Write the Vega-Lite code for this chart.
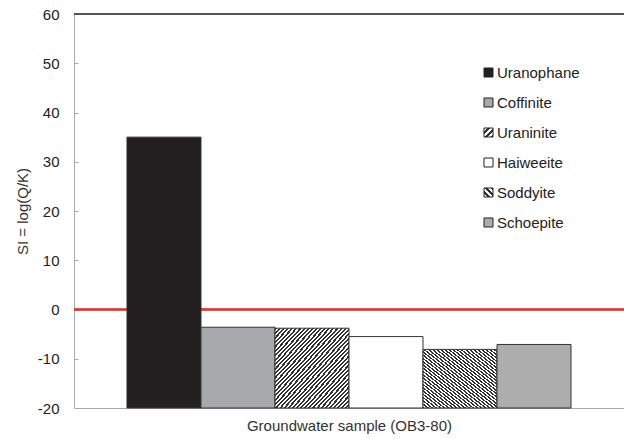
{
  "$schema": "https://vega.github.io/schema/vega-lite/v6.json",
  "autosize": {"type": "none"},
  "width": 550,
  "height": 394,
  "padding": {"left": 74, "top": 14, "right": 0, "bottom": 31},
  "background": "white",
  "config": {
    "view": {"stroke": null},
    "font": "Liberation Sans",
    "axis": {"labelFont": "Liberation Sans", "titleFont": "Liberation Sans", "labelFontSize": 15, "titleFontSize": 15, "labelColor": "#222", "titleColor": "#333", "titleFontWeight": "normal", "grid": false, "domainColor": "#aaa", "tickColor": "#aaa"}
  },
  "data": {
    "values": [
      {"mineral": "Uranophane", "SI": 35.0, "order": 1},
      {"mineral": "Coffinite", "SI": -3.6, "order": 2},
      {"mineral": "Uraninite", "SI": -3.8, "order": 3},
      {"mineral": "Haiweeite", "SI": -5.5, "order": 4},
      {"mineral": "Soddyite", "SI": -8.1, "order": 5},
      {"mineral": "Schoepite", "SI": -7.1, "order": 6}
    ]
  },
  "layer": [
    {
      "mark": {"type": "rule", "color": "#555", "strokeWidth": 1.5},
      "encoding": {"y": {"datum": 60, "type": "quantitative", "scale": {"domain": [-20, 60], "nice": false, "zero": false}}}
    },
    {
      "mark": {"type": "rule", "color": "#e8332a", "strokeWidth": 1.5},
      "encoding": {"y": {"datum": 0, "type": "quantitative"}}
    },
    {
      "mark": {"type": "bar", "stroke": "#333", "strokeWidth": 1, "opacity": 1},
      "encoding": {
        "x": {
          "field": "mineral", "type": "nominal", "sort": {"field": "order"},
          "scale": {"paddingInner": 0, "paddingOuter": 0.716},
          "axis": {"labels": false, "ticks": false, "title": "Groundwater sample (OB3-80)", "titlePadding": 10}
        },
        "y": {
          "field": "SI", "type": "quantitative",
          "scale": {"domain": [-20, 60], "nice": false, "zero": false},
          "axis": {"values": [-20, -10, 0, 10, 20, 30, 40, 50, 60], "labelExpr": "'' + datum.value", "title": "SI = log(Q/K)", "tickSize": -4, "labelPadding": 19, "titlePadding": 7}
        },
        "y2": {"datum": -20},
        "fill": {
          "condition": [
            {"test": "datum.mineral === 'Uraninite'", "value": {"gradient": "linear", "x1": 0, "y1": 0, "x2": 1, "y2": 1, "stops": [
              {"offset":0,"color":"#333"},{"offset":0.0139,"color":"#333"},{"offset":0.0139,"color":"#fff"},{"offset":0.0278,"color":"#fff"},
              {"offset":0.0278,"color":"#333"},{"offset":0.0417,"color":"#333"},{"offset":0.0417,"color":"#fff"},{"offset":0.0556,"color":"#fff"},
              {"offset":0.0556,"color":"#333"},{"offset":0.0694,"color":"#333"},{"offset":0.0694,"color":"#fff"},{"offset":0.0833,"color":"#fff"},
              {"offset":0.0833,"color":"#333"},{"offset":0.0972,"color":"#333"},{"offset":0.0972,"color":"#fff"},{"offset":0.1111,"color":"#fff"},
              {"offset":0.1111,"color":"#333"},{"offset":0.125,"color":"#333"},{"offset":0.125,"color":"#fff"},{"offset":0.1389,"color":"#fff"},
              {"offset":0.1389,"color":"#333"},{"offset":0.1528,"color":"#333"},{"offset":0.1528,"color":"#fff"},{"offset":0.1667,"color":"#fff"},
              {"offset":0.1667,"color":"#333"},{"offset":0.1806,"color":"#333"},{"offset":0.1806,"color":"#fff"},{"offset":0.1944,"color":"#fff"},
              {"offset":0.1944,"color":"#333"},{"offset":0.2083,"color":"#333"},{"offset":0.2083,"color":"#fff"},{"offset":0.2222,"color":"#fff"},
              {"offset":0.2222,"color":"#333"},{"offset":0.2361,"color":"#333"},{"offset":0.2361,"color":"#fff"},{"offset":0.25,"color":"#fff"},
              {"offset":0.25,"color":"#333"},{"offset":0.2639,"color":"#333"},{"offset":0.2639,"color":"#fff"},{"offset":0.2778,"color":"#fff"},
              {"offset":0.2778,"color":"#333"},{"offset":0.2917,"color":"#333"},{"offset":0.2917,"color":"#fff"},{"offset":0.3056,"color":"#fff"},
              {"offset":0.3056,"color":"#333"},{"offset":0.3194,"color":"#333"},{"offset":0.3194,"color":"#fff"},{"offset":0.3333,"color":"#fff"},
              {"offset":0.3333,"color":"#333"},{"offset":0.3472,"color":"#333"},{"offset":0.3472,"color":"#fff"},{"offset":0.3611,"color":"#fff"},
              {"offset":0.3611,"color":"#333"},{"offset":0.375,"color":"#333"},{"offset":0.375,"color":"#fff"},{"offset":0.3889,"color":"#fff"},
              {"offset":0.3889,"color":"#333"},{"offset":0.4028,"color":"#333"},{"offset":0.4028,"color":"#fff"},{"offset":0.4167,"color":"#fff"},
              {"offset":0.4167,"color":"#333"},{"offset":0.4306,"color":"#333"},{"offset":0.4306,"color":"#fff"},{"offset":0.4444,"color":"#fff"},
              {"offset":0.4444,"color":"#333"},{"offset":0.4583,"color":"#333"},{"offset":0.4583,"color":"#fff"},{"offset":0.4722,"color":"#fff"},
              {"offset":0.4722,"color":"#333"},{"offset":0.4861,"color":"#333"},{"offset":0.4861,"color":"#fff"},{"offset":0.5,"color":"#fff"},
              {"offset":0.5,"color":"#333"},{"offset":0.5139,"color":"#333"},{"offset":0.5139,"color":"#fff"},{"offset":0.5278,"color":"#fff"},
              {"offset":0.5278,"color":"#333"},{"offset":0.5417,"color":"#333"},{"offset":0.5417,"color":"#fff"},{"offset":0.5556,"color":"#fff"},
              {"offset":0.5556,"color":"#333"},{"offset":0.5694,"color":"#333"},{"offset":0.5694,"color":"#fff"},{"offset":0.5833,"color":"#fff"},
              {"offset":0.5833,"color":"#333"},{"offset":0.5972,"color":"#333"},{"offset":0.5972,"color":"#fff"},{"offset":0.6111,"color":"#fff"},
              {"offset":0.6111,"color":"#333"},{"offset":0.625,"color":"#333"},{"offset":0.625,"color":"#fff"},{"offset":0.6389,"color":"#fff"},
              {"offset":0.6389,"color":"#333"},{"offset":0.6528,"color":"#333"},{"offset":0.6528,"color":"#fff"},{"offset":0.6667,"color":"#fff"},
              {"offset":0.6667,"color":"#333"},{"offset":0.6806,"color":"#333"},{"offset":0.6806,"color":"#fff"},{"offset":0.6944,"color":"#fff"},
              {"offset":0.6944,"color":"#333"},{"offset":0.7083,"color":"#333"},{"offset":0.7083,"color":"#fff"},{"offset":0.7222,"color":"#fff"},
              {"offset":0.7222,"color":"#333"},{"offset":0.7361,"color":"#333"},{"offset":0.7361,"color":"#fff"},{"offset":0.75,"color":"#fff"},
              {"offset":0.75,"color":"#333"},{"offset":0.7639,"color":"#333"},{"offset":0.7639,"color":"#fff"},{"offset":0.7778,"color":"#fff"},
              {"offset":0.7778,"color":"#333"},{"offset":0.7917,"color":"#333"},{"offset":0.7917,"color":"#fff"},{"offset":0.8056,"color":"#fff"},
              {"offset":0.8056,"color":"#333"},{"offset":0.8194,"color":"#333"},{"offset":0.8194,"color":"#fff"},{"offset":0.8333,"color":"#fff"},
              {"offset":0.8333,"color":"#333"},{"offset":0.8472,"color":"#333"},{"offset":0.8472,"color":"#fff"},{"offset":0.8611,"color":"#fff"},
              {"offset":0.8611,"color":"#333"},{"offset":0.875,"color":"#333"},{"offset":0.875,"color":"#fff"},{"offset":0.8889,"color":"#fff"},
              {"offset":0.8889,"color":"#333"},{"offset":0.9028,"color":"#333"},{"offset":0.9028,"color":"#fff"},{"offset":0.9167,"color":"#fff"},
              {"offset":0.9167,"color":"#333"},{"offset":0.9306,"color":"#333"},{"offset":0.9306,"color":"#fff"},{"offset":0.9444,"color":"#fff"},
              {"offset":0.9444,"color":"#333"},{"offset":0.9583,"color":"#333"},{"offset":0.9583,"color":"#fff"},{"offset":0.9722,"color":"#fff"},
              {"offset":0.9722,"color":"#333"},{"offset":0.9861,"color":"#333"},{"offset":0.9861,"color":"#fff"},{"offset":1,"color":"#fff"}]}},
            {"test": "datum.mineral === 'Soddyite'", "value": {"gradient": "linear", "x1": 0, "y1": 1, "x2": 1, "y2": 0, "stops": [
              {"offset":0,"color":"#333"},{"offset":0.0139,"color":"#333"},{"offset":0.0139,"color":"#fff"},{"offset":0.0278,"color":"#fff"},
              {"offset":0.0278,"color":"#333"},{"offset":0.0417,"color":"#333"},{"offset":0.0417,"color":"#fff"},{"offset":0.0556,"color":"#fff"},
              {"offset":0.0556,"color":"#333"},{"offset":0.0694,"color":"#333"},{"offset":0.0694,"color":"#fff"},{"offset":0.0833,"color":"#fff"},
              {"offset":0.0833,"color":"#333"},{"offset":0.0972,"color":"#333"},{"offset":0.0972,"color":"#fff"},{"offset":0.1111,"color":"#fff"},
              {"offset":0.1111,"color":"#333"},{"offset":0.125,"color":"#333"},{"offset":0.125,"color":"#fff"},{"offset":0.1389,"color":"#fff"},
              {"offset":0.1389,"color":"#333"},{"offset":0.1528,"color":"#333"},{"offset":0.1528,"color":"#fff"},{"offset":0.1667,"color":"#fff"},
              {"offset":0.1667,"color":"#333"},{"offset":0.1806,"color":"#333"},{"offset":0.1806,"color":"#fff"},{"offset":0.1944,"color":"#fff"},
              {"offset":0.1944,"color":"#333"},{"offset":0.2083,"color":"#333"},{"offset":0.2083,"color":"#fff"},{"offset":0.2222,"color":"#fff"},
              {"offset":0.2222,"color":"#333"},{"offset":0.2361,"color":"#333"},{"offset":0.2361,"color":"#fff"},{"offset":0.25,"color":"#fff"},
              {"offset":0.25,"color":"#333"},{"offset":0.2639,"color":"#333"},{"offset":0.2639,"color":"#fff"},{"offset":0.2778,"color":"#fff"},
              {"offset":0.2778,"color":"#333"},{"offset":0.2917,"color":"#333"},{"offset":0.2917,"color":"#fff"},{"offset":0.3056,"color":"#fff"},
              {"offset":0.3056,"color":"#333"},{"offset":0.3194,"color":"#333"},{"offset":0.3194,"color":"#fff"},{"offset":0.3333,"color":"#fff"},
              {"offset":0.3333,"color":"#333"},{"offset":0.3472,"color":"#333"},{"offset":0.3472,"color":"#fff"},{"offset":0.3611,"color":"#fff"},
              {"offset":0.3611,"color":"#333"},{"offset":0.375,"color":"#333"},{"offset":0.375,"color":"#fff"},{"offset":0.3889,"color":"#fff"},
              {"offset":0.3889,"color":"#333"},{"offset":0.4028,"color":"#333"},{"offset":0.4028,"color":"#fff"},{"offset":0.4167,"color":"#fff"},
              {"offset":0.4167,"color":"#333"},{"offset":0.4306,"color":"#333"},{"offset":0.4306,"color":"#fff"},{"offset":0.4444,"color":"#fff"},
              {"offset":0.4444,"color":"#333"},{"offset":0.4583,"color":"#333"},{"offset":0.4583,"color":"#fff"},{"offset":0.4722,"color":"#fff"},
              {"offset":0.4722,"color":"#333"},{"offset":0.4861,"color":"#333"},{"offset":0.4861,"color":"#fff"},{"offset":0.5,"color":"#fff"},
              {"offset":0.5,"color":"#333"},{"offset":0.5139,"color":"#333"},{"offset":0.5139,"color":"#fff"},{"offset":0.5278,"color":"#fff"},
              {"offset":0.5278,"color":"#333"},{"offset":0.5417,"color":"#333"},{"offset":0.5417,"color":"#fff"},{"offset":0.5556,"color":"#fff"},
              {"offset":0.5556,"color":"#333"},{"offset":0.5694,"color":"#333"},{"offset":0.5694,"color":"#fff"},{"offset":0.5833,"color":"#fff"},
              {"offset":0.5833,"color":"#333"},{"offset":0.5972,"color":"#333"},{"offset":0.5972,"color":"#fff"},{"offset":0.6111,"color":"#fff"},
              {"offset":0.6111,"color":"#333"},{"offset":0.625,"color":"#333"},{"offset":0.625,"color":"#fff"},{"offset":0.6389,"color":"#fff"},
              {"offset":0.6389,"color":"#333"},{"offset":0.6528,"color":"#333"},{"offset":0.6528,"color":"#fff"},{"offset":0.6667,"color":"#fff"},
              {"offset":0.6667,"color":"#333"},{"offset":0.6806,"color":"#333"},{"offset":0.6806,"color":"#fff"},{"offset":0.6944,"color":"#fff"},
              {"offset":0.6944,"color":"#333"},{"offset":0.7083,"color":"#333"},{"offset":0.7083,"color":"#fff"},{"offset":0.7222,"color":"#fff"},
              {"offset":0.7222,"color":"#333"},{"offset":0.7361,"color":"#333"},{"offset":0.7361,"color":"#fff"},{"offset":0.75,"color":"#fff"},
              {"offset":0.75,"color":"#333"},{"offset":0.7639,"color":"#333"},{"offset":0.7639,"color":"#fff"},{"offset":0.7778,"color":"#fff"},
              {"offset":0.7778,"color":"#333"},{"offset":0.7917,"color":"#333"},{"offset":0.7917,"color":"#fff"},{"offset":0.8056,"color":"#fff"},
              {"offset":0.8056,"color":"#333"},{"offset":0.8194,"color":"#333"},{"offset":0.8194,"color":"#fff"},{"offset":0.8333,"color":"#fff"},
              {"offset":0.8333,"color":"#333"},{"offset":0.8472,"color":"#333"},{"offset":0.8472,"color":"#fff"},{"offset":0.8611,"color":"#fff"},
              {"offset":0.8611,"color":"#333"},{"offset":0.875,"color":"#333"},{"offset":0.875,"color":"#fff"},{"offset":0.8889,"color":"#fff"},
              {"offset":0.8889,"color":"#333"},{"offset":0.9028,"color":"#333"},{"offset":0.9028,"color":"#fff"},{"offset":0.9167,"color":"#fff"},
              {"offset":0.9167,"color":"#333"},{"offset":0.9306,"color":"#333"},{"offset":0.9306,"color":"#fff"},{"offset":0.9444,"color":"#fff"},
              {"offset":0.9444,"color":"#333"},{"offset":0.9583,"color":"#333"},{"offset":0.9583,"color":"#fff"},{"offset":0.9722,"color":"#fff"},
              {"offset":0.9722,"color":"#333"},{"offset":0.9861,"color":"#333"},{"offset":0.9861,"color":"#fff"},{"offset":1,"color":"#fff"}]}}
          ],
          "field": "mineral", "type": "nominal",
          "scale": {
            "domain": ["Uranophane", "Coffinite", "Uraninite", "Haiweeite", "Soddyite", "Schoepite"],
            "range": [
              "#231f20",
              "#a7a9ac",
              {"expr": "{gradient: 'linear', x1: 0, y1: 0, x2: 1, y2: 1, stops: [{offset: 0, color: '#fff'}, {offset: 0.2, color: '#fff'}, {offset: 0.2, color: '#333'}, {offset: 0.35, color: '#333'}, {offset: 0.35, color: '#fff'}, {offset: 0.55, color: '#fff'}, {offset: 0.55, color: '#333'}, {offset: 0.7, color: '#333'}, {offset: 0.7, color: '#fff'}, {offset: 0.85, color: '#fff'}, {offset: 0.85, color: '#333'}, {offset: 1, color: '#333'}]}"},
              "#ffffff",
              {"expr": "{gradient: 'linear', x1: 0, y1: 1, x2: 1, y2: 0, stops: [{offset: 0, color: '#fff'}, {offset: 0.2, color: '#fff'}, {offset: 0.2, color: '#333'}, {offset: 0.35, color: '#333'}, {offset: 0.35, color: '#fff'}, {offset: 0.55, color: '#fff'}, {offset: 0.55, color: '#333'}, {offset: 0.7, color: '#333'}, {offset: 0.7, color: '#fff'}, {offset: 0.85, color: '#fff'}, {offset: 0.85, color: '#333'}, {offset: 1, color: '#333'}]}"},
              "#adadad"
            ]
          },
          "legend": {
            "orient": "none", "legendX": 407, "legendY": 51, "title": null, "padding": 0,
            "symbolType": "square", "symbolSize": 81, "symbolStrokeColor": "#222", "symbolStrokeWidth": 1,
            "labelFont": "Liberation Sans", "labelFontSize": 15, "labelColor": "#222", "labelOffset": 1, "rowPadding": 14
          }
        }
      }
    }
  ]
}
